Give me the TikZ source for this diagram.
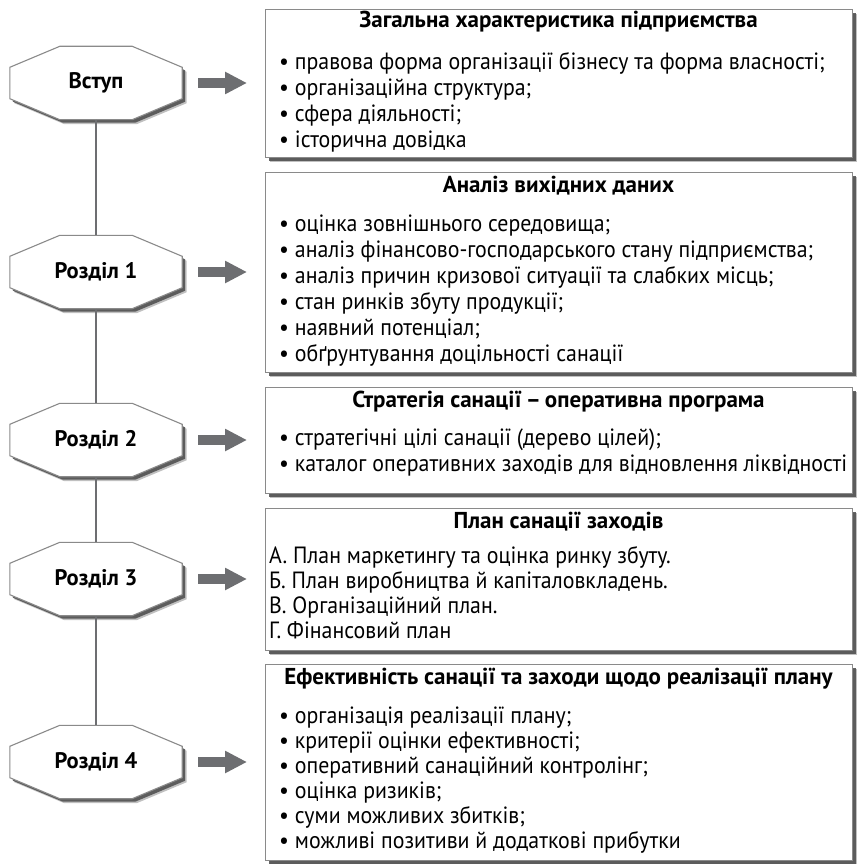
\documentclass[tikz,border=0pt]{standalone}
\usepackage{fontspec}
\setmainfont{PT Sans}
\newfontfamily\itemfont[FakeStretch=0.93]{PT Sans}
\usetikzlibrary{calc,arrows.meta}

\definecolor{edgegray}{HTML}{8A8A8A}
\definecolor{linkgray}{HTML}{6D6E71}
\definecolor{shadowgray}{HTML}{4A4A4A}

\pgfdeclarelayer{background}
\pgfsetlayers{background,main}

% outline of a stage octagon built on the anchors of a rectangle node
\newcommand\octagonpath[1]{%
  ($(#1.north west)+(50,0)$) -- ($(#1.north east)+(-50,0)$) --
  ($(#1.north east)+(0,-21)$) -- ($(#1.south east)+(0,21)$) --
  ($(#1.south east)+(-50,0)$) -- ($(#1.south west)+(50,0)$) --
  ($(#1.south west)+(0,21)$) -- ($(#1.north west)+(0,-21)$) -- cycle}

\tikzset{
  infobox/.style={draw=edgegray, line width=1.2pt, fill=white,
    minimum width=587pt, inner sep=0pt, anchor=north west,
    preaction={fill=shadowgray, opacity=0.35, transform canvas={shift={(4.5pt,-4.5pt)}}},
    preaction={fill=shadowgray, opacity=0.85, transform canvas={shift={(3pt,-3pt)}}}},
  boxtitle/.style={font=\fontsize{23}{26}\selectfont\bfseries, anchor=mid, inner sep=0pt},
  boxitem/.style={font=\itemfont\fontsize{23.5}{26}\selectfont, anchor=mid west, inner sep=0pt},
  stage/.style={minimum width=172pt, minimum height=73pt, inner sep=0pt,
    font=\fontsize{22.5}{26}\selectfont\bfseries},
  stageedge/.style={draw=edgegray, line width=1.1pt, fill=white},
  link/.style={draw=linkgray, line width=1.8pt},
  flow/.style={draw=linkgray, line width=10pt, -{Triangle[length=22pt,width=21pt]}},
}

\newcommand\stageframe[1]{%
  \begin{scope}[transform canvas={shift={(4.5pt,-4.5pt)}}]
    \fill[shadowgray, opacity=0.35] \octagonpath{#1};
  \end{scope}
  \begin{scope}[transform canvas={shift={(3pt,-3pt)}}]
    \fill[shadowgray, opacity=0.85] \octagonpath{#1};
  \end{scope}
  \path[stageedge] \octagonpath{#1};}

\begin{document}
\begin{tikzpicture}[x=1pt,y=1pt]
\useasboundingbox (0,0) rectangle (857,-864);

% ---- stages on the left ----
\node[stage] (s0) at (96,-83)  {Вступ};
\node[stage] (s1) at (96,-272) {Розділ 1};
\node[stage] (s2) at (96,-440) {Розділ 2};
\node[stage] (s3) at (96,-579) {Розділ 3};
\node[stage] (s4) at (96,-762) {Розділ 4};

\begin{pgfonlayer}{background}
  \stageframe{s0}
  \stageframe{s1}
  \stageframe{s2}
  \stageframe{s3}
  \stageframe{s4}
\end{pgfonlayer}

\draw[link] (s0.south) -- (s1.north);
\draw[link] (s1.south) -- (s2.north);
\draw[link] (s2.south) -- (s3.north);
\draw[link] (s3.south) -- (s4.north);

% ---- content boxes on the right ----
\node[infobox, minimum height=148pt] (b0) at (265,-9)   {};
\node[infobox, minimum height=200pt] (b1) at (265,-172) {};
\node[infobox, minimum height=106pt] (b2) at (265,-387) {};
\node[infobox, minimum height=142pt] (b3) at (265,-508) {};
\node[infobox, minimum height=196pt] (b4) at (265,-664) {};

\foreach \s/\b in {s0/b0, s1/b1, s2/b2, s3/b3, s4/b4}
  \draw[flow] ([xshift=16pt]\s.east) -- ([xshift=-18pt]\b.west |- \s.east);

% box 0
\node[boxtitle] (t0) at (558.5,-25) {Загальна характеристика підприємства};
\node[boxitem] (i01) at (279,-67)  {• правова форма організації бізнесу та форма власності;};
\node[boxitem] (i02) at (279,-93)  {• організаційна структура;};
\node[boxitem] (i03) at (279,-119) {• сфера діяльності;};
\node[boxitem] (i04) at (279,-145) {• історична довідка};

% box 1
\node[boxtitle] (t1) at (558.5,-190) {Аналіз вихідних даних};
\node[boxitem] (i11) at (279,-229) {• оцінка зовнішнього середовища;};
\node[boxitem] (i12) at (279,-255) {• аналіз фінансово-господарського стану підприємства;};
\node[boxitem] (i13) at (279,-281) {• аналіз причин кризової ситуації та слабких місць;};
\node[boxitem] (i14) at (279,-307) {• стан ринків збуту продукції;};
\node[boxitem] (i15) at (279,-333) {• наявний потенціал;};
\node[boxitem] (i16) at (279,-359) {• обґрунтування доцільності санації};

% box 2
\node[boxtitle] (t2) at (558.5,-405) {Стратегія санації\kern4pt–\kern4pt оперативна програма};
\node[boxitem] (i21) at (279,-443) {• стратегічні цілі санації (дерево цілей);};
\node[boxitem] (i22) at (279,-469) {• каталог оперативних заходів для відновлення ліквідності};

% box 3
\node[boxtitle] (t3) at (558.5,-526) {План санації заходів};
\node[boxitem] (i31) at (269,-561) {А. План маркетингу та оцінка ринку збуту.};
\node[boxitem] (i32) at (269,-586) {Б. План виробництва й капіталовкладень.};
\node[boxitem] (i33) at (269,-611) {В. Організаційний план.};
\node[boxitem] (i34) at (269,-636) {Г. Фінансовий план};

% box 4
\node[boxtitle] (t4) at (558.5,-682) {Ефективність санації та заходи щодо реалізації плану};
\node[boxitem] (i41) at (279,-721) {• організація реалізації плану;};
\node[boxitem] (i42) at (279,-746) {• критерії оцінки ефективності;};
\node[boxitem] (i43) at (279,-771) {• оперативний санаційний контролінг;};
\node[boxitem] (i44) at (279,-796) {• оцінка ризиків;};
\node[boxitem] (i45) at (279,-821) {• суми можливих збитків;};
\node[boxitem] (i46) at (279,-846) {• можливі позитиви й додаткові прибутки};
\end{tikzpicture}
\end{document}
